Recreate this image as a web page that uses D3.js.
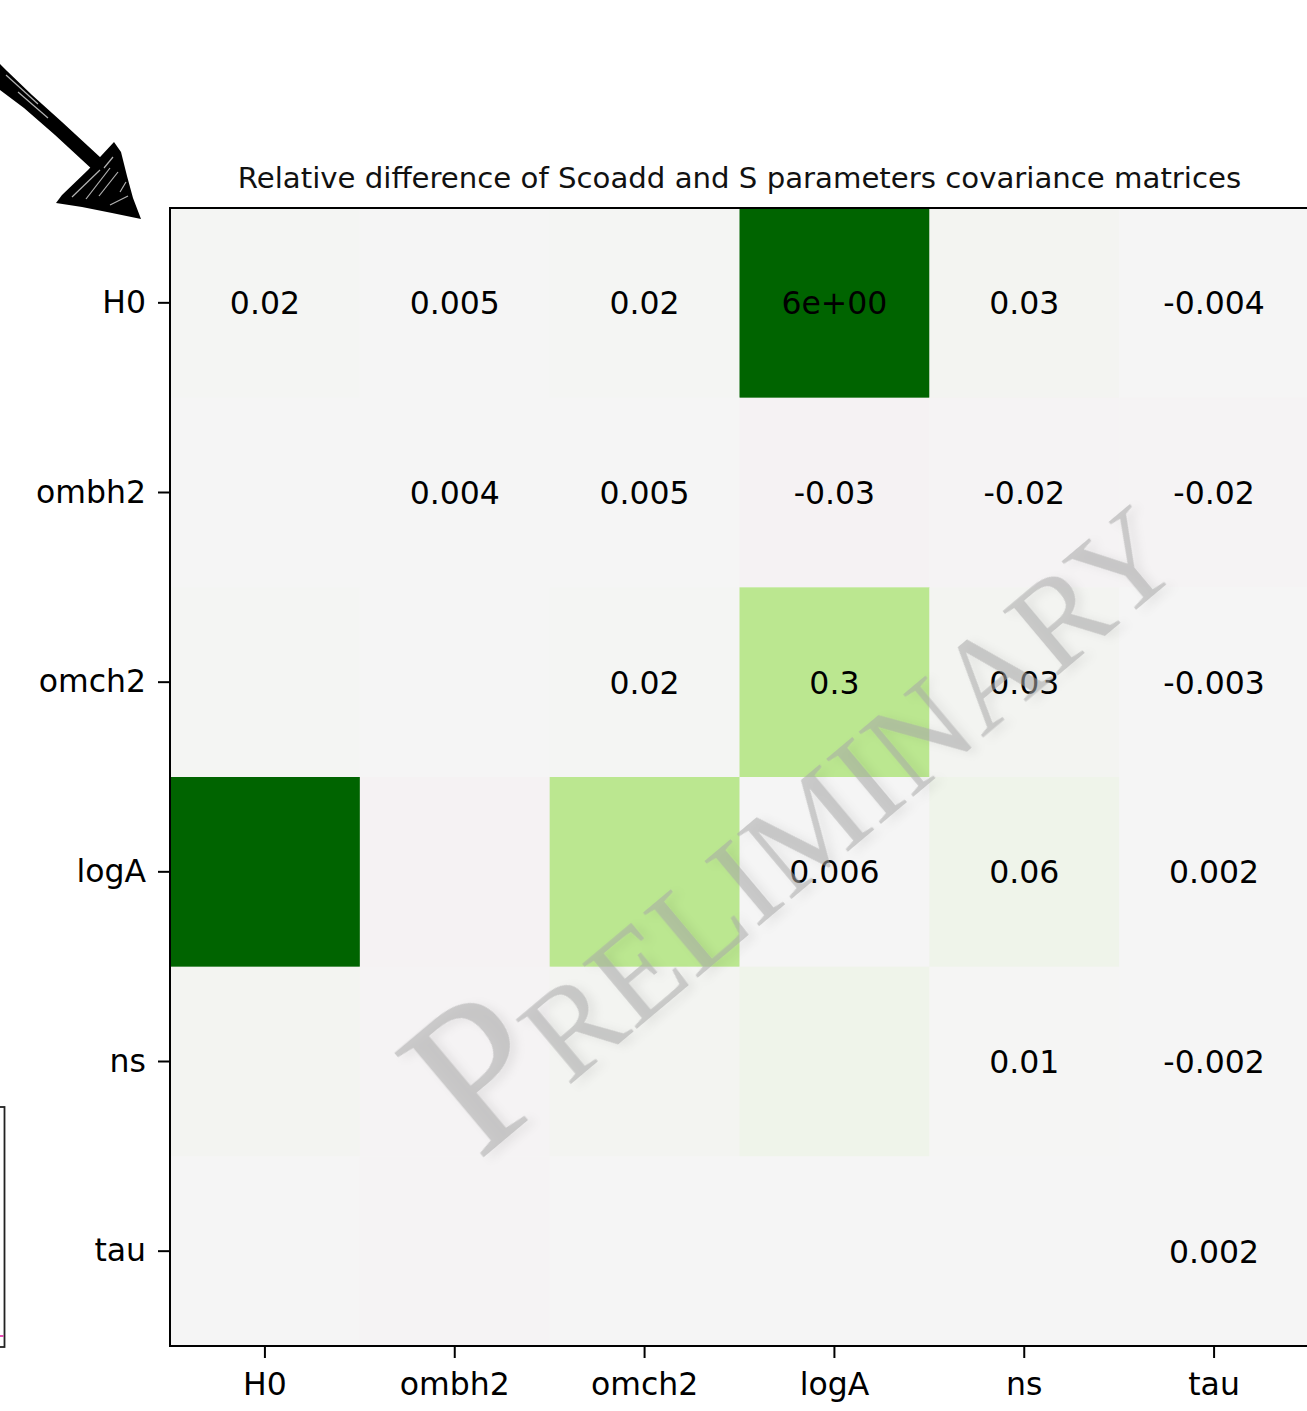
<!DOCTYPE html>
<html>
<head>
<meta charset="utf-8">
<script src="https://cdn.jsdelivr.net/npm/d3@7"></script>
<style>
  body { margin: 0; background: #fff; }
  svg { display: block; }
</style>
</head>
<body>
<div id="chart"></div>
<script>
const params = ["H0", "ombh2", "omch2", "logA", "ns", "tau"];

// upper triangle of the (symmetric) relative difference matrix, row by row
const upper = [
  [0.02, 0.005, 0.02, 6, 0.03, -0.004],
  [0.004, 0.005, -0.03, -0.02, -0.02],
  [0.02, 0.3, 0.03, -0.003],
  [0.006, 0.06, 0.002],
  [0.01, -0.002],
  [0.002]
];

const baseColor = "#f5f5f5";
const negColor = "#f0a0c8";
const lowGreen = "#bbe790";
const highGreen = "#006400";

const W = 1307, H = 1411;
const plotLeft = 170, plotRight = 1309, plotTop = 208, plotBottom = 1346;

const svg = d3.select("#chart").append("svg")
  .attr("width", W).attr("height", H);

const x = d3.scaleBand().domain(params).range([plotLeft, plotRight]);
const y = d3.scaleBand().domain(params).range([plotTop, plotBottom]);

// near zero the colour fades in slowly, above 0.3 it runs to dark green
const tint = d3.scalePow().exponent(1.4).domain([0, 0.3]).range([0, 1]).clamp(true);
const greenHi = d3.scaleLinear().domain([0.3, 6]).range([lowGreen, highGreen]).clamp(true);
const color = v => v >= 0.3
  ? greenHi(v)
  : d3.interpolateRgb(baseColor, v < 0 ? negColor : lowGreen)(tint(Math.abs(v)));

// full matrix from upper triangle
const cells = [];
params.forEach((r, i) => {
  params.forEach((c, j) => {
    const v = j >= i ? upper[i][j - i] : upper[j][i - j];
    cells.push({ row: r, col: c, v: v, shown: j >= i });
  });
});

const fmt = v => Math.abs(v) >= 1
  ? v.toExponential(0).replace(/e([+-])(\d)$/, "e$10$2")
  : d3.format(".1g")(v).replace("\u2212", "-");

svg.append("g").selectAll("rect")
  .data(cells).enter().append("rect")
  .attr("x", d => x(d.col))
  .attr("y", d => y(d.row))
  .attr("width", x.bandwidth() + 0.5)
  .attr("height", y.bandwidth() + 0.5)
  .attr("fill", d => color(d.v));

svg.append("g").selectAll("text")
  .data(cells.filter(d => d.shown)).enter().append("text")
  .attr("x", d => x(d.col) + x.bandwidth() / 2)
  .attr("y", d => y(d.row) + y.bandwidth() / 2)
  .attr("dy", "0.36em")
  .attr("text-anchor", "middle")
  .style("font-family", "DejaVu Sans")
  .style("font-size", "31.5px")
  .attr("fill", "#000")
  .text(d => fmt(d.v));

// axes
const yAxis = svg.append("g")
  .attr("transform", "translate(" + plotLeft + ",0)")
  .call(d3.axisLeft(y).tickSize(12).tickPadding(12));
const xAxis = svg.append("g")
  .attr("transform", "translate(0," + plotBottom + ")")
  .call(d3.axisBottom(x).tickSize(12).tickPadding(15));
[xAxis, yAxis].forEach(a => {
  a.select(".domain").remove();
  a.selectAll("line").attr("stroke", "#000").attr("stroke-width", 2);
  a.selectAll("text")
    .style("font-family", "DejaVu Sans")
    .style("font-size", "31.5px")
    .attr("fill", "#000");
});

svg.append("rect")
  .attr("x", plotLeft).attr("y", plotTop)
  .attr("width", plotRight - plotLeft).attr("height", plotBottom - plotTop)
  .attr("fill", "none").attr("stroke", "#000").attr("stroke-width", 2);

svg.append("text")
  .attr("x", (plotLeft + plotRight) / 2)
  .attr("y", 188)
  .attr("text-anchor", "middle")
  .style("font-family", "DejaVu Sans")
  .style("font-size", "29.2px")
  .attr("fill", "#111")
  .text("Relative difference of Scoadd and S parameters covariance matrices");

// watermark
const defs = svg.append("defs");
const f = defs.append("filter").attr("id", "shadow")
  .attr("x", "-10%").attr("y", "-10%").attr("width", "120%").attr("height", "130%");
f.append("feDropShadow")
  .attr("dx", 4).attr("dy", 6).attr("stdDeviation", 5)
  .attr("flood-color", "#000").attr("flood-opacity", 0.12);

const wm = svg.append("text")
  .attr("transform", "translate(478,1162) rotate(-40)")
  .style("font-family", "Liberation Serif")
  .attr("fill", "#a8a8a8")
  .attr("fill-opacity", 0.55)
  .attr("filter", "url(#shadow)");
wm.append("tspan").style("font-size", "210px").text("P");
wm.append("tspan").style("font-size", "130px").text("RELIMINARY");

// hand drawn arrow at top left
const arrow = svg.append("g");
arrow.append("path")
  .attr("d", "M0,64 L7,71 L32,95 L62,122 L101,158 L94,171 L55,135 L24,108 L0,90 Z")
  .attr("fill", "#000");
arrow.append("path")
  .attr("d", "M114,142 L121,152 L127,176 L133,198 L141,219 L112,213 L82,207 L56,203 L62,195 L88,170 Z")
  .attr("fill", "#000");
const scratch = [
  [[72, 197], [100, 170]], [[86, 199], [110, 168]], [[99, 196], [118, 172]],
  [[104, 168], [113, 157]], [[120, 192], [126, 182]], [[6, 75], [38, 104]],
  [[18, 92], [48, 118]], [[110, 205], [128, 196]]
];
arrow.selectAll("line.s").data(scratch).enter().append("line")
  .attr("x1", d => d[0][0]).attr("y1", d => d[0][1])
  .attr("x2", d => d[1][0]).attr("y2", d => d[1][1])
  .attr("stroke", "#fff").attr("stroke-width", 1.2).attr("stroke-opacity", 0.7);

// neighbouring panel edge at bottom left
svg.append("rect")
  .attr("x", -10).attr("y", 1107).attr("width", 14.5).attr("height", 240)
  .attr("fill", "#fff").attr("stroke", "#222").attr("stroke-width", 1.8);
svg.append("line")
  .attr("x1", 0).attr("x2", 3.5).attr("y1", 1336).attr("y2", 1336)
  .attr("stroke", "#e0109a").attr("stroke-width", 1.5);
</script>
</body>
</html>
